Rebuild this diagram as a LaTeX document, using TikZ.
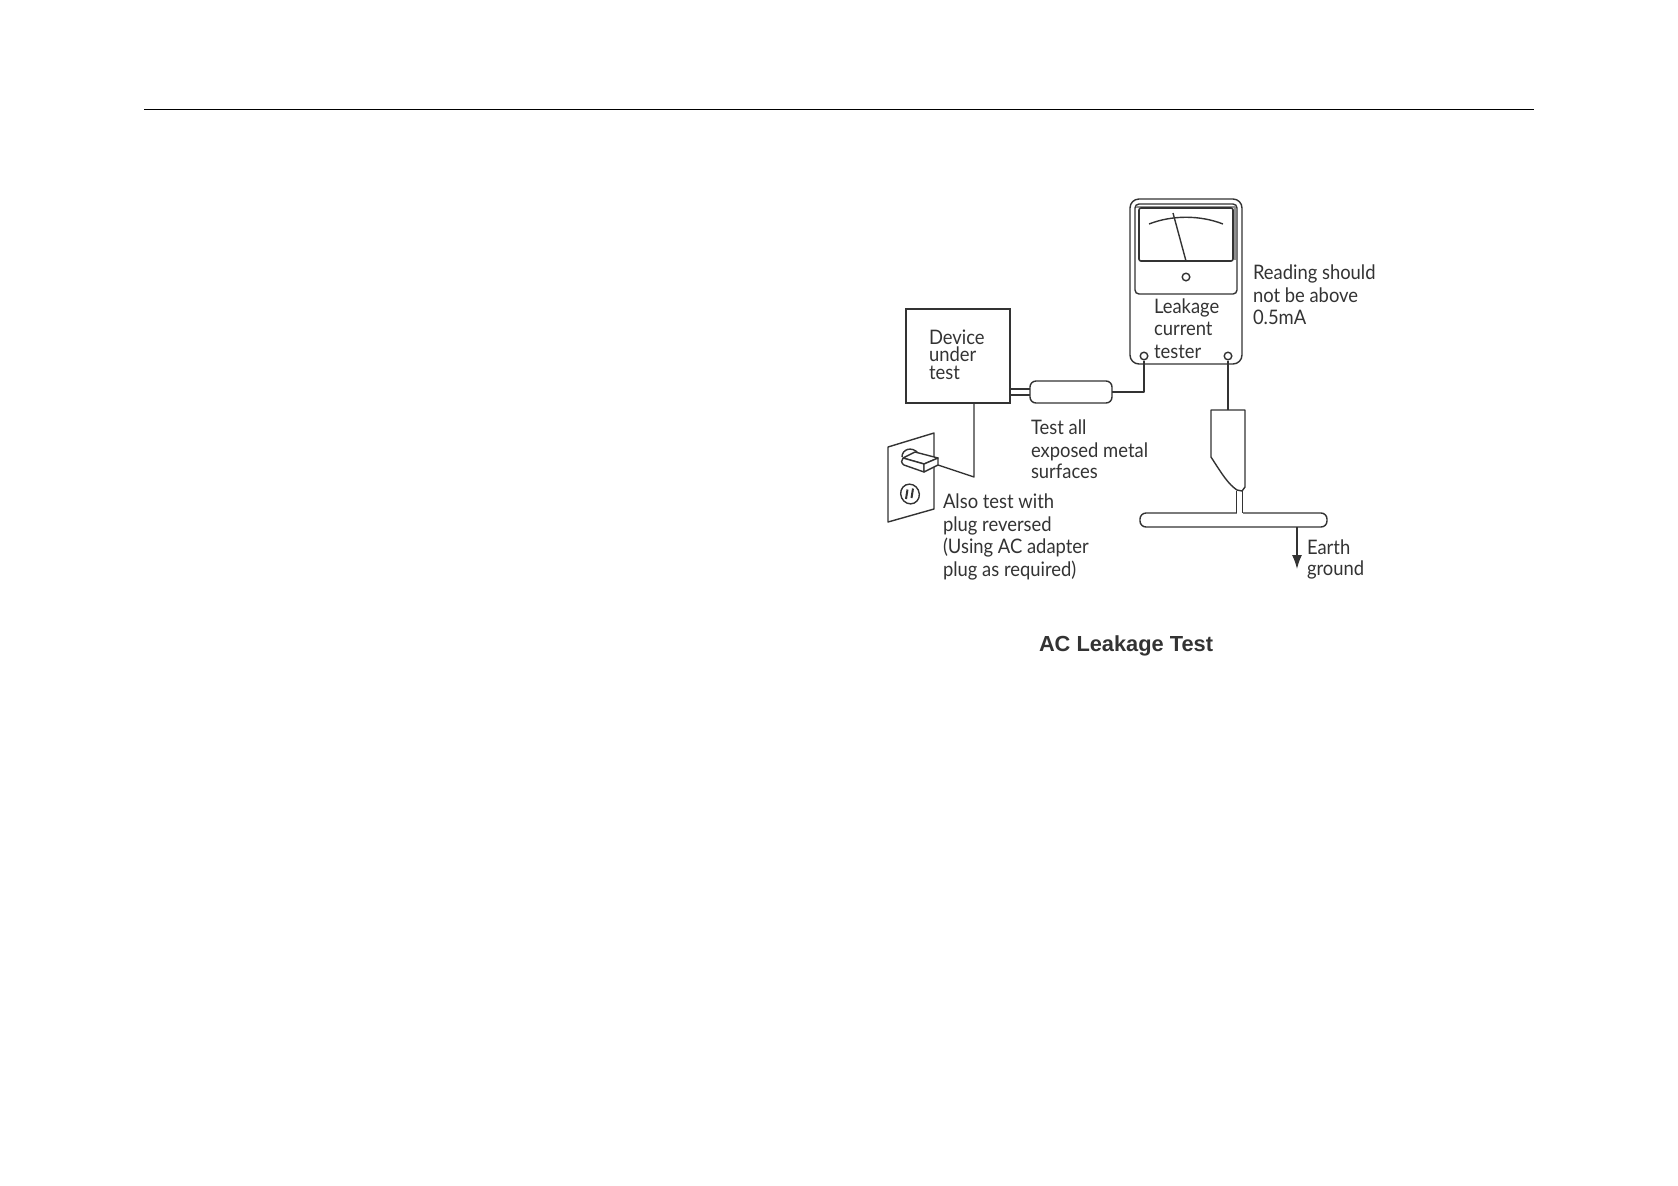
\documentclass[tikz,border=0pt]{standalone}
\usepackage{fontspec}
\setmainfont{Lato}[FakeStretch=0.92]
\newfontfamily\titlefont{Liberation Sans}
\usetikzlibrary{arrows.meta}
\definecolor{ink}{HTML}{333333}
\tikzset{
  x=0.5pt,y=-0.5pt,
  ln/.style={draw=ink,line width=0.7pt,line join=round},
  lab/.style={anchor=base west,inner sep=0pt,outer sep=0pt,text=ink,font=\fontsize{10}{12}\selectfont},
  term/.style={circle,draw=ink,line width=0.7pt,fill=white,minimum size=3.8pt,inner sep=0pt},
  plate/.style={rectangle,inner sep=0pt,outer sep=0pt},
}
\begin{document}
\begin{tikzpicture}
\useasboundingbox (0,0) rectangle (1678,1185);
% page rule
\coordinate (ruleL) at (144,109);
\coordinate (ruleR) at (1534,109);
\draw[black,line width=0.45pt] (ruleL) -- (ruleR);

% device
\node[plate,draw=ink,line width=0.7pt,minimum width=52pt,minimum height=47pt] (device) at (957.8,356) {};
% test probe
\node[plate,draw=ink,line width=0.7pt,rounded corners=3pt,minimum width=41pt,minimum height=11pt] (probe) at (1071,392) {};
\coordinate (dbl1a) at (device.east |- 0,389);
\coordinate (dbl2a) at (device.east |- 0,395);
\coordinate (dbl1b) at (probe.west |- 0,389);
\coordinate (dbl2b) at (probe.west |- 0,395);
\draw[ln] (dbl1a) -- (dbl1b) (dbl2a) -- (dbl2b);

% tester
\node[plate,draw=ink,line width=0.7pt,rounded corners=4.5pt,minimum width=56pt,minimum height=82.5pt] (tester) at (1186,281.5) {};
\node[plate,draw=ink,line width=0.7pt,rounded corners=2pt,minimum width=51pt,minimum height=45pt] (face) at (1186,249) {};
\fill[ink!55] (1136,205.5) rectangle (1236,208);
\fill[ink!55] (1233.5,208) rectangle (1236,260);
\node[plate,draw=ink,line width=0.8pt,rounded corners=1pt,minimum width=47pt,minimum height=26.5pt] (window) at (1186,234.5) {};
\coordinate (arcL) at (1149,224);
\coordinate (arcR) at (1223,224);
\coordinate (needleT) at (1173,213);
\coordinate (needleB) at (1186,261);
\draw[ln] (arcL) .. controls (1172,215) and (1200,215) .. (arcR);
\draw[ln] (needleT) -- (needleB);
\node[term] (pivot) at (1186,277) {};
\node[term] (termL) at (1144,356) {};
\node[term] (termR) at (1228,356) {};
\coordinate (pbend) at (termL |- probe.east);
\draw[ln] (probe.east) -- (pbend) -- (termL.south);

% ground probe
\coordinate (gTL) at (1211,410);
\coordinate (gTR) at (1245,410);
\coordinate (gTop) at (termR |- gTL);
\draw[ln] (termR.south) -- (gTop);
\draw[ln] (gTL) -- (gTR) -- (1245,487) -- (1242,491) -- (1237,490)
  .. controls (1228,484) and (1222,474) .. (1211,457) -- cycle;
% ground bar
\node[plate,draw=ink,line width=0.7pt,rounded corners=3pt,minimum width=93.5pt,minimum height=7pt] (bar) at (1233.5,520) {};
\coordinate (s1) at (1236.5,491);
\coordinate (s2) at (1242.5,491);
\fill[white] (s1 |- bar.north) ++(0,-1) rectangle ([yshift=-1pt]s2 |- bar.north);
\draw[ln] (s1) -- (s1 |- bar.north) (s2) -- (s2 |- bar.north);
\coordinate (arrowTop) at (1297,527);
\coordinate (arrowEnd) at (1297,569);
\draw[ln,-{Latex[length=7pt,width=5pt]}] (arrowTop) -- (arrowEnd);

% outlet
\coordinate (p1) at (888,447);
\coordinate (p2) at (934,433);
\coordinate (p3) at (934,509);
\coordinate (p4) at (888,522);
\draw[ln] (p1) -- (p2) -- (p3) -- (p4) -- cycle;
\draw[ln,fill=white] (902,457) .. controls (902,449) and (912,446) .. (918,453);
\draw[ln,fill=white] (903,458) -- (915,452) -- (938,458) -- (924,464) -- cycle;
\draw[ln,fill=white] (903,458) -- (924,464) -- (924,472) -- (904,465) .. controls (901,463) and (901,460) .. (903,458);
\draw[ln,fill=white] (924,464) -- (938,458) -- (938,465) -- (924,472) -- cycle;
\coordinate (plugOut) at (938,465);
\coordinate (wbend) at (974,477);
\draw[ln] (device.south -| wbend) -- (wbend) -- (plugOut);
\draw[ln,rotate around={25:(910,494)}] (910,494) ellipse (4.6pt and 5pt);
\draw[ink,line width=1pt] (907.5,489.5) -- (906,499) (913,488.5) -- (911.5,498);

% labels
\node[lab] (l1) at (929,344) {Device};
\node[lab] (l2) at (929,361) {under};
\node[lab] (l3) at (929,379) {test};
\node[lab] (l4) at (1031,434) {Test all};
\node[lab] (l5) at (1031,457) {exposed metal};
\node[lab] (l6) at (1031,478) {surfaces};
\node[lab] (l7) at (943,508) {Also test with};
\node[lab] (l8) at (943,531) {plug reversed};
\node[lab] (l9) at (943,553) {(Using AC adapter};
\node[lab] (l10) at (943,576) {plug as required)};
\node[lab] (l11) at (1253,279) {Reading should};
\node[lab] (l12) at (1253,302) {not be above};
\node[lab] (l13) at (1253,324) {0.5mA};
\node[lab] (l14) at (1154,313) {Leakage};
\node[lab] (l15) at (1154,335) {current};
\node[lab] (l16) at (1154,358) {tester};
\node[lab] (l17) at (1307,554) {Earth};
\node[lab] (l18) at (1307,575) {ground};
\node[lab,font=\titlefont\bfseries\fontsize{10.9}{13}\selectfont] (title) at (1039,651) {AC Leakage Test};
\end{tikzpicture}
\end{document}
